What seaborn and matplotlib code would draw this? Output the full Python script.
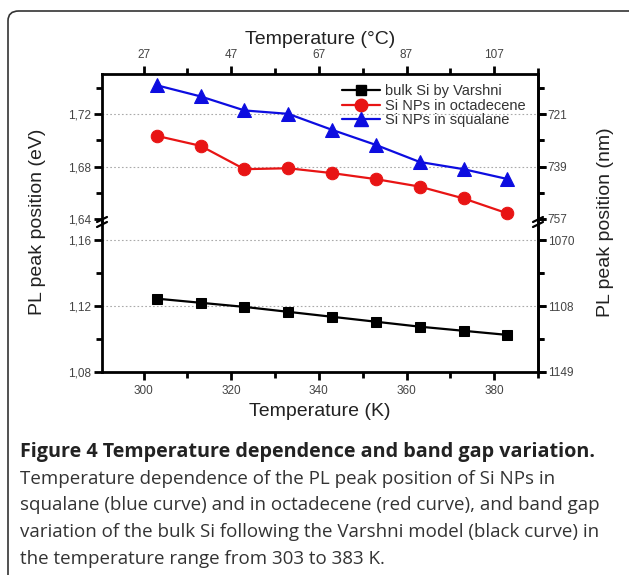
import numpy as np
import pandas as pd
import matplotlib
matplotlib.use('Agg')
import matplotlib.pyplot as plt
import seaborn as sns
from matplotlib.lines import Line2D
from matplotlib.patches import FancyBboxPatch
from matplotlib.ticker import MultipleLocator

sns.set_style('ticks')
plt.rcParams['font.family'] = ['Liberation Sans', 'DejaVu Sans']

# data
temps_k = [303, 313, 323, 333, 343, 353, 363, 373, 383]
squalane_ev = [1.742, 1.7335, 1.7228, 1.7202, 1.708, 1.6965, 1.6835, 1.678, 1.6705]
octadecene_ev = [1.7034, 1.6958, 1.678, 1.6787, 1.675, 1.6704, 1.6647, 1.6557, 1.6443]
varshni_ev = [1.1245, 1.122, 1.1195, 1.1165, 1.1135, 1.1105, 1.1075, 1.105, 1.1025]

upper_ticks = [1.64, 1.68, 1.72]
upper_labels = ['1,64', '1,68', '1,72']
upper_nm = ['757', '739', '721']
lower_ticks = [1.08, 1.12, 1.16]
lower_labels = ['1,08', '1,12', '1,16']
lower_nm = ['1149', '1108', '1070']
x_ticks = [300, 320, 340, 360, 380]
celsius_labels = ['27', '47', '67', '87', '107']

df = pd.DataFrame({'T': temps_k, 'squalane': squalane_ev,
                   'octadecene': octadecene_ev, 'varshni': varshni_ev})

W, H = 629, 575
fig = plt.figure(figsize=(W / 100, H / 100), dpi=100)

def px(x0, y0, x1, y1):
    return [x0 / W, 1 - y1 / H, (x1 - x0) / W, (y1 - y0) / H]

# rounded frame around figure + caption
frame = FancyBboxPatch((8 / W, 1 - 640 / H), 700 / W, 629 / H,
                       boxstyle='round,pad=0,rounding_size=0.017',
                       transform=fig.transFigure, fill=False,
                       edgecolor='#333333', linewidth=1.2)
fig.patches.append(frame)

ax_top = fig.add_axes(px(102, 74, 538, 222))
ax_bot = fig.add_axes(px(102, 222, 538, 372))

blue = '#0d0de0'
red = '#e81414'
tick_col = '#444444'
tick_fs = 8.5
lw = 1.6

sns.lineplot(data=df, x='T', y='squalane', ax=ax_top, color=blue, marker='^',
             markersize=10, markeredgecolor=blue, linewidth=lw, legend=False)
sns.lineplot(data=df, x='T', y='octadecene', ax=ax_top, color=red, marker='o',
             markersize=9, markeredgecolor=red, linewidth=lw, legend=False)
sns.lineplot(data=df, x='T', y='varshni', ax=ax_bot, color='black', marker='s',
             markersize=7, markeredgecolor='black', linewidth=lw, legend=False)

ax_top.set_ylim(1.6377, 1.7506)
ax_bot.set_ylim(1.08, 1.171)

for ax in (ax_top, ax_bot):
    ax.set_xlim(290.5, 390)
    ax.set_xlabel('')
    ax.set_ylabel('')
    for s in ax.spines.values():
        s.set_linewidth(2)
        s.set_color('black')
    ax.yaxis.set_minor_locator(MultipleLocator(0.02))
    ax.xaxis.set_minor_locator(MultipleLocator(10))
    ax.tick_params(which='major', length=6, width=2, colors='black',
                   labelcolor=tick_col, labelsize=tick_fs)
    ax.tick_params(which='minor', length=4, width=2, colors='black')
    ax.tick_params(axis='y', which='both', left=True, right=True,
                   labelleft=True, labelright=False, pad=2)

ax_top.spines['bottom'].set_visible(False)
ax_bot.spines['top'].set_visible(False)

ax_top.set_yticks(upper_ticks)
ax_top.set_yticklabels(upper_labels)
ax_bot.set_yticks(lower_ticks)
ax_bot.set_yticklabels(lower_labels)

# dotted grid lines at inner major ticks
for y in upper_ticks[1:]:
    ax_top.axhline(y, color='#aaaaaa', linestyle=(0, (1.5, 2)), linewidth=0.8, zorder=0)
for y in lower_ticks[1:]:
    ax_bot.axhline(y, color='#aaaaaa', linestyle=(0, (1.5, 2)), linewidth=0.8, zorder=0)

# right axis labels (nm)
for ax, ticks, labels in ((ax_top, upper_ticks, upper_nm), (ax_bot, lower_ticks, lower_nm)):
    sec = ax.secondary_yaxis('right')
    sec.set_yticks(ticks)
    sec.set_yticklabels(labels)
    sec.yaxis.set_minor_locator(MultipleLocator(0.02))
    sec.spines['right'].set_linewidth(2)
    sec.tick_params(which='major', length=6, width=2, labelcolor=tick_col,
                    labelsize=tick_fs, pad=1)
    sec.tick_params(which='minor', length=4, width=2)

# top axis in Celsius
ax_top.tick_params(axis='x', which='both', bottom=False, labelbottom=False,
                   top=True, labeltop=True)
ax_top.set_xticks(x_ticks)
ax_top.set_xticklabels(celsius_labels)
ax_bot.set_xticks(x_ticks)
ax_bot.tick_params(axis='x', which='both', top=False)

# break marks
for xf in (0.0, 1.0):
    for dy in (-2.5, 2.5):
        fig.add_artist(Line2D([(102 + xf * 436 - 5) / W, (102 + xf * 436 + 5) / W],
                              [1 - (222 + dy + 2.5) / H, 1 - (222 + dy - 2.5) / H],
                              transform=fig.transFigure, color='black', linewidth=1.6))

# axis labels
fig.text(320 / W, 1 - 39 / H, 'Temperature (°C)', ha='center', va='center',
         fontsize=14, color='#222222')
fig.text(320 / W, 1 - 411 / H, 'Temperature (K)', ha='center', va='center',
         fontsize=14, color='#222222')
fig.text(38 / W, 1 - 222 / H, 'PL peak position (eV)', ha='center', va='center',
         rotation=90, fontsize=14, color='#222222')
fig.text(606 / W, 1 - 222 / H, 'PL peak position (nm)', ha='center', va='center',
         rotation=90, fontsize=14, color='#222222')

# legend
handles = [
    Line2D([], [], color='black', marker='s', markersize=7, linewidth=lw),
    Line2D([], [], color=red, marker='o', markersize=9, linewidth=lw),
    Line2D([], [], color=blue, marker='^', markersize=10, linewidth=lw),
]
labels = ['bulk Si by Varshni', 'Si NPs in octadecene', 'Si NPs in squalane']
leg = fig.legend(handles, labels, loc='upper left', bbox_to_anchor=(342 / W, 1 - 84 / H),
                 frameon=False, fontsize=10.5, handlelength=2.6, handletextpad=0.35,
                 labelspacing=0.05, borderaxespad=0, borderpad=0)
for t in leg.get_texts():
    t.set_color('#333333')

# caption
cap_font = ['Open Sans', 'DejaVu Sans']
fig.text(20 / W, 1 - 452 / H, 'Figure 4 Temperature dependence and band gap variation.',
         ha='left', va='center', fontsize=14.2, fontweight='bold', color='#222222',
         family=cap_font)
caption_lines = [
    'Temperature dependence of the PL peak position of Si NPs in',
    'squalane (blue curve) and in octadecene (red curve), and band gap',
    'variation of the bulk Si following the Varshni model (black curve) in',
    'the temperature range from 303 to 383 K.',
]
for i, line in enumerate(caption_lines):
    fig.text(20 / W, 1 - (479 + 26.5 * i) / H, line, ha='left', va='center',
             fontsize=13.5, color='#333333', family=cap_font)

fig.savefig('out.png', dpi=100)
